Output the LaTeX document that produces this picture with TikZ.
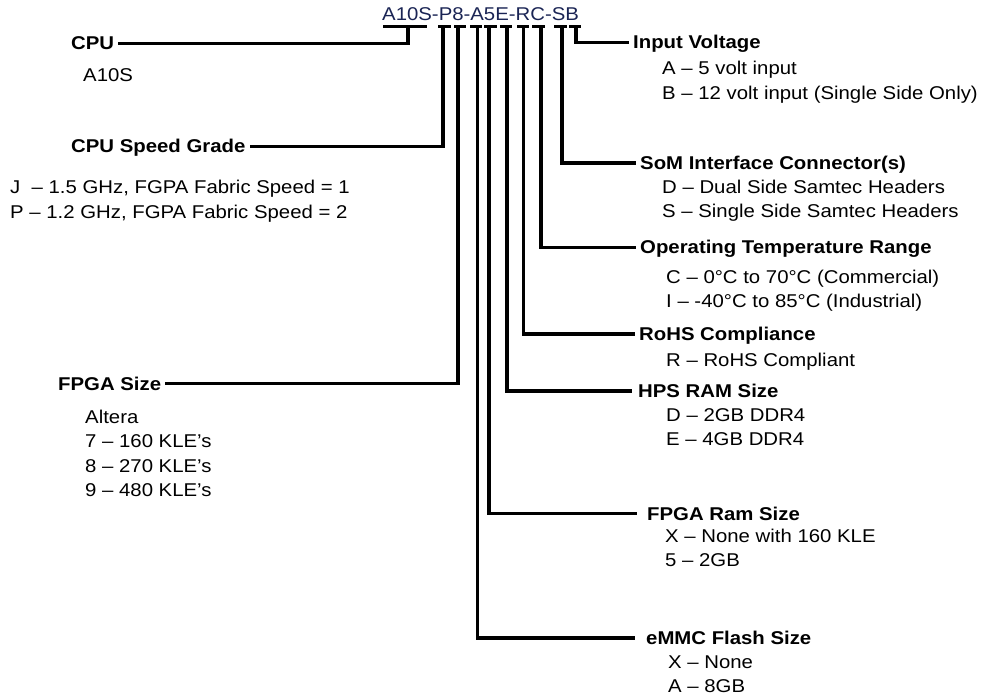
\documentclass[tikz,border=0pt]{standalone}
\usepackage{fontspec}
\setmainfont{Liberation Sans}[FakeStretch=1.1]
\definecolor{codeink}{RGB}{26,36,84}

\begin{document}
\begin{tikzpicture}[x=1pt, y=-1pt,
    lbl/.style={font=\fontsize{18.5}{22}\selectfont\bfseries, inner xsep=4pt, inner ysep=0pt,
      text height=13pt, text depth=0pt, anchor=base west},
    item/.style={font=\fontsize{18.5}{22}\selectfont, inner sep=0pt, anchor=base west},
    lead/.style={line width=3.6pt},
    bar/.style={line width=3pt}]
  \useasboundingbox (0,0) rectangle (984,700);

  % part number
  \node[item, text=codeink] (code) at (382,20.5) {A10S-P8-A5E-RC-SB};

  % bars under the fields, with their tap points
  \foreach \f/\a/\b/\t in {cpu/383/427/408, spd/438/451/443, fsz/454/466/458,
      emmc/470/482/477.5, fram/484/497/489, hps/500/512/507, rohs/517/529/523.5,
      temp/532/545/541, som/554/567/562, volt/569/581/576}{
    \draw[bar] (\a,26.5) -- (\b,26.5);
    \coordinate (t\f) at (\t,26.5);
  }

  % left fields
  \node[lbl] (lcpu) at (67,50) {CPU};
  \node[item] (cpu1) at (83,82) {A10S};

  \node[lbl] (lspd) at (67,153) {CPU Speed Grade};
  \node[item] (spd1) at (10,194) {J\ \ – 1.5 GHz, FGPA Fabric Speed = 1};
  \node[item] (spd2) at (10,219) {P – 1.2 GHz, FGPA Fabric Speed = 2};

  \node[lbl] (lfsz) at (54,390) {FPGA Size};
  \node[item] (fsz1) at (85,423) {Altera};
  \node[item] (fsz2) at (85,447.5) {7 – 160 KLE’s};
  \node[item] (fsz3) at (85,472) {8 – 270 KLE’s};
  \node[item] (fsz4) at (85,496.5) {9 – 480 KLE’s};

  % right fields
  \node[lbl] (lvolt) at (629,49) {Input Voltage};
  \node[item] (volt1) at (662,75) {A – 5 volt input};
  \node[item] (volt2) at (662,99.3) {B – 12 volt input (Single Side Only)};

  \node[lbl] (lsom) at (636,169.3) {SoM Interface Connector(s)};
  \node[item] (som1) at (662,193.3) {D – Dual Side Samtec Headers};
  \node[item] (som2) at (662,217.3) {S – Single Side Samtec Headers};

  \node[lbl] (ltemp) at (636,254) {Operating Temperature Range};
  \node[item] (temp1) at (666,283.3) {C – 0°C to 70°C (Commercial)};
  \node[item] (temp2) at (666,307.3) {I – -40°C to 85°C (Industrial)};

  \node[lbl] (lrohs) at (635,340.5) {RoHS Compliance};
  \node[item] (rohs1) at (666,366.7) {R – RoHS Compliant};

  \node[lbl] (lhps) at (634,397.3) {HPS RAM Size};
  \node[item] (hps1) at (666,421.7) {D – 2GB DDR4};
  \node[item] (hps2) at (666,445) {E – 4GB DDR4};

  \node[lbl] (lfram) at (643,520) {FPGA Ram Size};
  \node[item] (fram1) at (665,542.3) {X – None with 160 KLE};
  \node[item] (fram2) at (665,566) {5 – 2GB};

  \node[lbl] (lemmc) at (642,644.5) {eMMC Flash Size};
  \node[item] (emmc1) at (668,668.3) {X – None};
  \node[item] (emmc2) at (668,692.7) {A – 8GB};

  % leads from the bars to the fields
  \draw[lead] (tcpu) |- (lcpu.east);
  \draw[lead] (tspd) |- (lspd.east);
  \draw[lead] (tfsz) |- (lfsz.east);
  \draw[lead] (tvolt) |- (lvolt.west);
  \draw[lead] (tsom) |- (lsom.west);
  \draw[lead] (ttemp) |- (ltemp.west);
  \draw[lead] (trohs) |- (lrohs.west);
  \draw[lead, shorten >=2pt] (thps) |- (lhps.west);
  \draw[lead, shorten >=6pt] (tfram) |- (lfram.west);
  \draw[lead, shorten >=7pt] (temmc) |- (lemmc.west);
\end{tikzpicture}
\end{document}
